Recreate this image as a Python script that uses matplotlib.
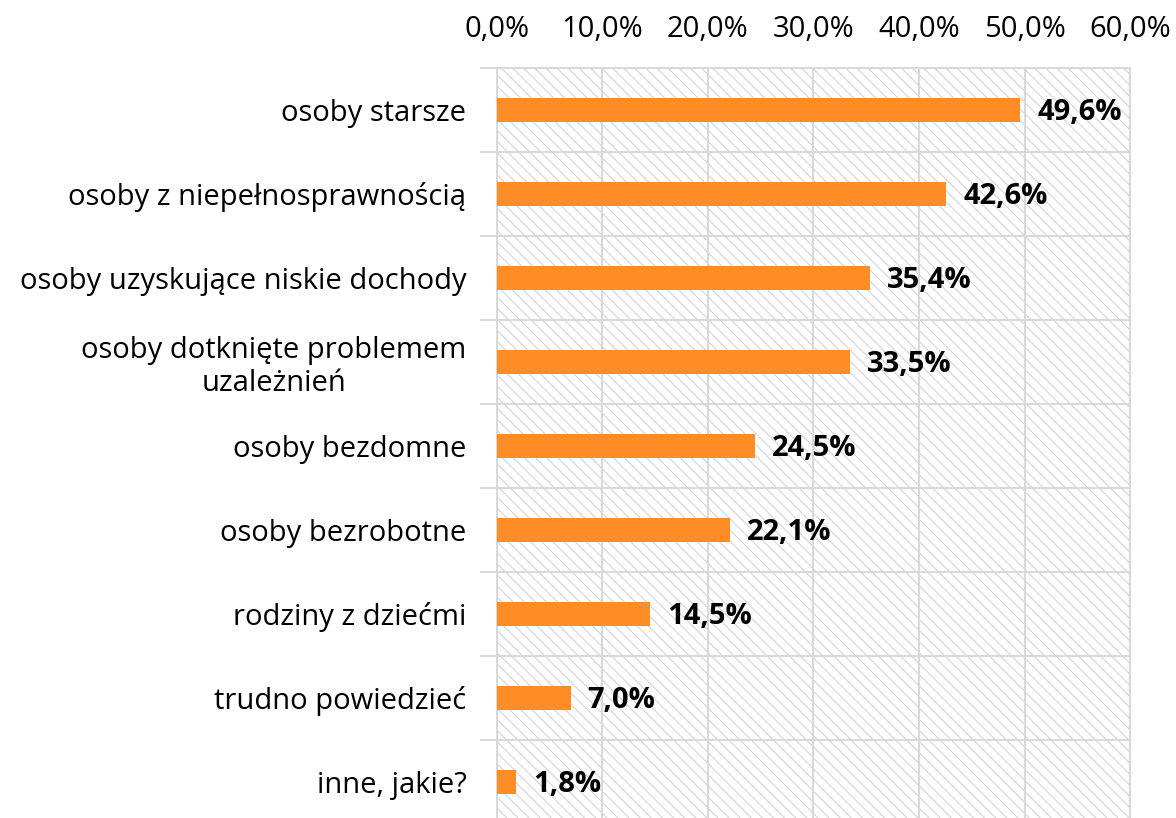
"""Horizontal bar chart: groups most at risk (survey answers, %)."""

import matplotlib
matplotlib.use("Agg")
import matplotlib.pyplot as plt
from matplotlib.patches import Rectangle

categories = [
    "osoby starsze",
    "osoby z niepełnosprawnością",
    "osoby uzyskujące niskie dochody",
    "osoby dotknięte problemem\nuzależnień",
    "osoby bezdomne",
    "osoby bezrobotne",
    "rodziny z dziećmi",
    "trudno powiedzieć",
    "inne, jakie?",
]
shares = [49.6, 42.6, 35.4, 33.5, 24.5, 22.1, 14.5, 7.0, 1.8]
x_ticks = [0, 10, 20, 30, 40, 50, 60]

ORANGE = "#FF8C24"
GRID = "#D9D9D9"

plt.rcParams["font.family"] = ["Open Sans", "DejaVu Sans"]
plt.rcParams["hatch.linewidth"] = 0.8
plt.rcParams["hatch.color"] = "#D4D4D4"

fig = plt.figure(figsize=(11.76, 8.18), dpi=100)
ax = fig.add_axes([0.4226, -0.0073, 0.5383, 0.9242])

# hatched plot-area background
ax.add_patch(Rectangle((0, 0), 1, 1, transform=ax.transAxes, facecolor="white",
                       edgecolor="#D4D4D4", hatch="\\\\\\", linewidth=0, zorder=0))

y = list(range(len(categories)))
ax.barh(y, shares, height=0.29, color=ORANGE, zorder=3)
for yi, v in zip(y, shares):
    ax.text(v + 1.6, yi + 0.03, f"{v:.1f}%".replace(".", ","), va="center", ha="left",
            fontsize=21, fontweight="bold", color="black", zorder=4)

ax.set_xlim(0, 60)
ax.set_ylim(len(categories) - 0.5, -0.5)
ax.xaxis.tick_top()
ax.set_xticks(x_ticks)
ax.set_xticklabels([f"{t:.1f}%".replace(".", ",") for t in x_ticks], fontsize=21)
ax.tick_params(axis="x", length=0, pad=17)
ax.grid(axis="x", color=GRID, linewidth=1.5, zorder=1)

ax.set_yticks(y)
ax.set_yticklabels(categories, fontsize=21, multialignment="center",
                   linespacing=1.15)
ax.tick_params(axis="y", which="major", length=0, pad=22)
ax.set_yticks([i - 0.5 for i in range(len(categories) + 1)], minor=True)
ax.tick_params(axis="y", which="minor", length=12, width=1.5, color=GRID, direction="out")
ax.grid(axis="y", which="minor", color=GRID, linewidth=1.5, zorder=1)

for s in ax.spines.values():
    s.set_color(GRID)
    s.set_linewidth(1.5)
ax.set_axisbelow(True)

fig.savefig("out.png", dpi=100, facecolor="white")
